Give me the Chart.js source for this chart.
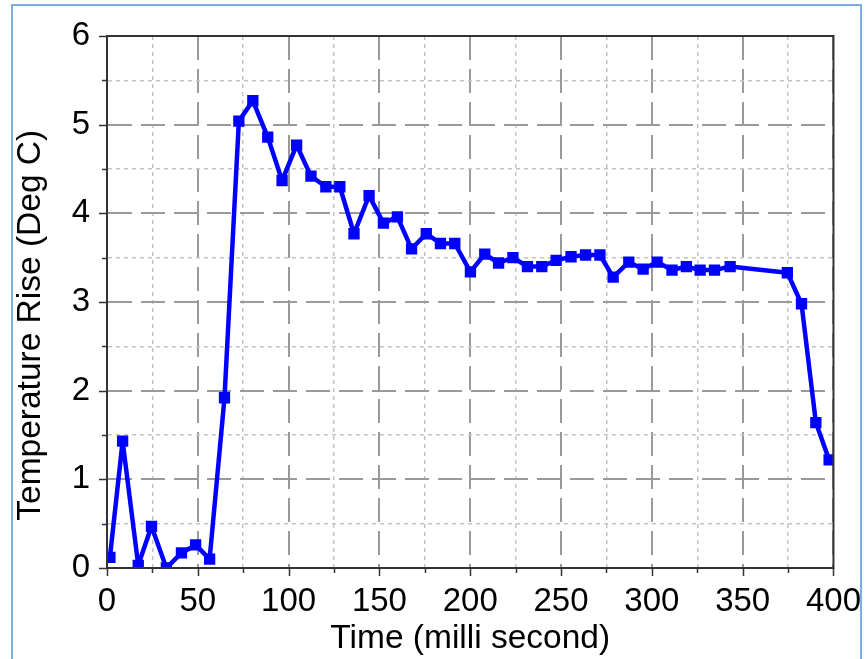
<!DOCTYPE html>
<html>
<head>
<meta charset="utf-8">
<title>Temperature Rise</title>
<script src="https://cdn.jsdelivr.net/npm/chart.js@4.4.0/dist/chart.umd.min.js"></script>
<style>
    html, body { margin: 0; padding: 0; background: #fff; overflow: hidden; }
    #frame { position: absolute; left: 11px; top: 4px; width: 851px; height: 700px; border: 2px solid #7eaee0; box-sizing: border-box; }
    #chart { position: absolute; left: 0; top: 0; }
</style>
</head>
<body>
<div id="frame"></div>
<canvas id="chart" width="867" height="659"></canvas>
<script>

// time in milli second
var timeData = [1.6, 8.6, 17.2, 24.5, 32.7, 41, 48.8, 56.5, 64.7, 72.6, 80.3, 88.5, 96.4, 104.4, 112.3, 120.5,
    128.2, 136, 144.3, 152.2, 159.9, 167.7, 175.8, 183.6, 191.5, 200.1, 208, 215.6, 223.5, 231.5, 239.4, 247.3,
    255.5, 263.5, 271.4, 278.7, 287.3, 295.2, 302.9, 311.1, 319, 326.6, 334.5, 343.1, 374.6, 382.4, 390.3, 397.6];

// temperature rise in deg C
var tempData = [0.12, 1.43, 0.03, 0.47, 0.0, 0.17, 0.26, 0.10, 1.92, 5.04, 5.27, 4.86, 4.37, 4.77, 4.42, 4.30,
    4.30, 3.77, 4.20, 3.89, 3.96, 3.60, 3.77, 3.66, 3.66, 3.34, 3.54, 3.44, 3.50, 3.40, 3.40, 3.47,
    3.51, 3.53, 3.53, 3.28, 3.45, 3.37, 3.45, 3.36, 3.40, 3.36, 3.36, 3.40, 3.33, 2.98, 1.64, 1.22];

// labelled ticks
var xTickLabels = [0, 50, 100, 150, 200, 250, 300, 350, 400];
var yTickLabels = [0, 1, 2, 3, 4, 5, 6];

var points = [];
for (var i = 0; i < timeData.length; i++) {
    points.push({ x: timeData[i], y: tempData[i] });
}

var fontName = "'Liberation Sans', Arial, sans-serif";
var majorColor = '#9a9a9a';
var minorColor = '#c4c4c4';
var axisColor = '#333333';

function isMajor(ctx, list) {
    return ctx.tick && list.indexOf(ctx.tick.value) !== -1;
}

// frame round the plot and the tick marks (minor ones shorter)
var framePlugin = {
    id: 'frame',
    afterDraw: function (chart) {
        var c = chart.ctx;
        var area = chart.chartArea;
        var xs = chart.scales.x;
        var ys = chart.scales.y;
        c.save();
        c.strokeStyle = axisColor;
        c.lineWidth = 2;
        c.strokeRect(area.left, area.top, area.right - area.left, area.bottom - area.top);
        c.lineWidth = 1.5;
        c.beginPath();
        xs.ticks.forEach(function (t) {
            var len = xTickLabels.indexOf(t.value) !== -1 ? 8 : 5;
            var px = Math.round(xs.getPixelForValue(t.value)) + 0.5;
            c.moveTo(px, area.bottom);
            c.lineTo(px, area.bottom + len);
        });
        ys.ticks.forEach(function (t) {
            var len = yTickLabels.indexOf(t.value) !== -1 ? 8 : 5;
            var py = Math.round(ys.getPixelForValue(t.value)) + 0.5;
            c.moveTo(area.left, py);
            c.lineTo(area.left - len, py);
        });
        c.stroke();
        c.restore();
    }
};

var ctx = document.getElementById('chart').getContext('2d');
window.myChart = new Chart(ctx, {
    type: 'line',
    data: {
        datasets: [{
            label: 'Temperature Rise',
            data: points,
            borderColor: '#0000ff',
            backgroundColor: '#0000ff',
            borderWidth: 4.5,
            borderJoinStyle: 'round',
            pointStyle: 'rect',
            pointRadius: 8,
            pointBorderWidth: 0,
            pointBackgroundColor: '#0000ff',
            tension: 0,
            clip: 0
        }]
    },
    options: {
        responsive: false,
        animation: false,
        layout: { padding: { top: 36, right: 31, bottom: 0, left: 0 } },
        plugins: {
            legend: { display: false },
            tooltip: { enabled: false }
        },
        scales: {
            x: {
                type: 'linear',
                min: 0,
                max: 400,
                afterFit: function (scale) { scale.height = 91; },
                ticks: {
                    stepSize: 25,
                    autoSkip: false,
                    maxRotation: 0,
                    padding: 6,
                    color: '#000',
                    font: { family: fontName, size: 33 },
                    callback: function (value) {
                        return xTickLabels.indexOf(value) !== -1 ? value : '';
                    }
                },
                grid: {
                    color: function (c) { return isMajor(c, xTickLabels) ? majorColor : minorColor; },
                    lineWidth: function (c) { return isMajor(c, xTickLabels) ? 2 : 1.5; },
                    tickLength: 8,
                    tickColor: 'rgba(0,0,0,0)'
                },
                border: {
                    color: axisColor,
                    width: 2,
                    dash: function (c) { return isMajor(c, xTickLabels) ? [24, 9] : [4, 4]; }
                },
                title: {
                    display: true,
                    text: 'Time (milli second)',
                    color: '#000',
                    font: { family: fontName, size: 33.5 },
                    padding: { top: 0, bottom: 0 }
                }
            },
            y: {
                min: 0,
                max: 6,
                afterFit: function (scale) { scale.width = 107; },
                ticks: {
                    stepSize: 0.5,
                    autoSkip: false,
                    padding: 9,
                    color: '#000',
                    font: { family: fontName, size: 33 },
                    callback: function (value) {
                        return yTickLabels.indexOf(value) !== -1 ? value : '';
                    }
                },
                grid: {
                    color: function (c) { return isMajor(c, yTickLabels) ? majorColor : minorColor; },
                    lineWidth: function (c) { return isMajor(c, yTickLabels) ? 2 : 1.5; },
                    tickLength: 8,
                    tickColor: 'rgba(0,0,0,0)'
                },
                border: {
                    color: axisColor,
                    width: 2,
                    dash: function (c) { return isMajor(c, yTickLabels) ? [24, 9] : [4, 4]; }
                },
                title: {
                    display: true,
                    text: 'Temperature Rise (Deg C)     ',
                    color: '#000',
                    font: { family: fontName, size: 33.5 },
                    padding: { top: 11, bottom: 0 }
                }
            }
        }
    },
    plugins: [framePlugin]
});

</script>
</body>
</html>
